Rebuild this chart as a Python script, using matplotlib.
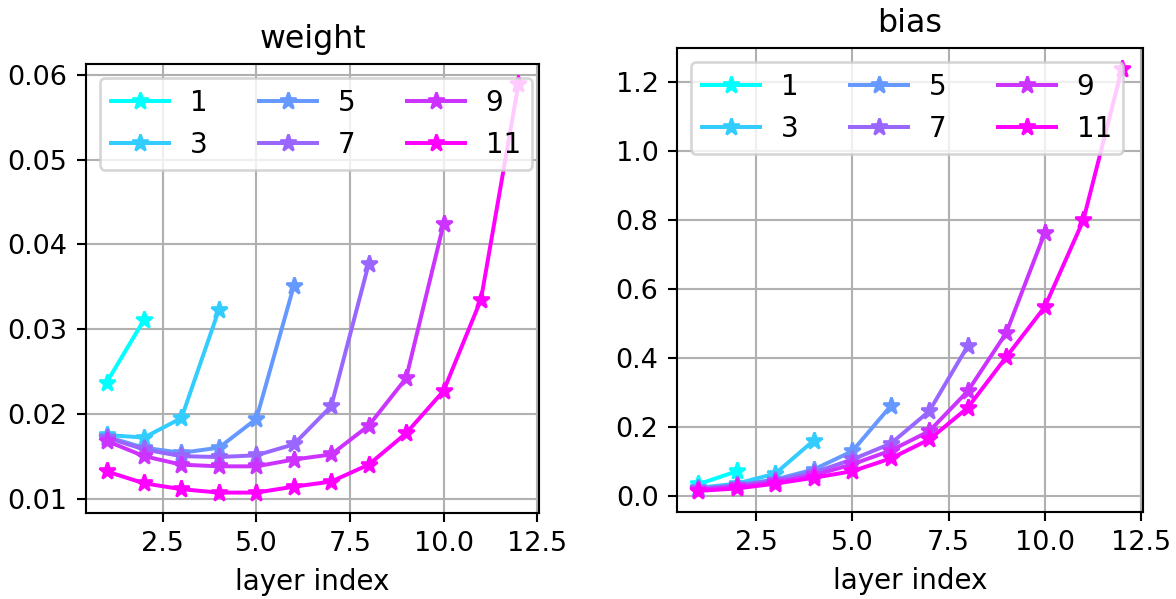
import numpy as np
import matplotlib
matplotlib.use("Agg")
import matplotlib.pyplot as plt
from matplotlib import cm

series_labels = ["1", "3", "5", "7", "9", "11"]

weight_1 = [0.0237, 0.0311]
weight_3 = [0.0175, 0.0172, 0.0195, 0.0323]
weight_5 = [0.0173, 0.0160, 0.0154, 0.0160, 0.0194, 0.0351]
weight_7 = [0.0172, 0.0158, 0.0150, 0.0149, 0.0151, 0.0164, 0.0209, 0.0377]
weight_9 = [0.0168, 0.0150, 0.0140, 0.0138, 0.0138, 0.0146, 0.0152, 0.0186, 0.0242, 0.0424]
weight_11 = [0.0132, 0.0118, 0.0111, 0.0107, 0.0107, 0.0114, 0.0120, 0.0140, 0.0177, 0.0227, 0.0335, 0.0589]

bias_1 = [0.034, 0.072]
bias_3 = [0.024, 0.036, 0.065, 0.161]
bias_5 = [0.022, 0.032, 0.048, 0.077, 0.130, 0.261]
bias_7 = [0.020, 0.030, 0.045, 0.068, 0.106, 0.152, 0.246, 0.435]
bias_9 = [0.018, 0.028, 0.040, 0.060, 0.092, 0.132, 0.188, 0.304, 0.473, 0.763]
bias_11 = [0.015, 0.022, 0.036, 0.053, 0.072, 0.109, 0.164, 0.256, 0.403, 0.548, 0.799, 1.237]

weights = [weight_1, weight_3, weight_5, weight_7, weight_9, weight_11]
biases = [bias_1, bias_3, bias_5, bias_7, bias_9, bias_11]

DPI = 190
W, H = 1176, 599
fig = plt.figure(figsize=(W / DPI, H / DPI), dpi=DPI)

def px_axes(x0, y0, x1, y1):
    return fig.add_axes([x0 / W, 1 - y1 / H, (x1 - x0) / W, (y1 - y0) / H])

ax1 = px_axes(86, 64, 539, 513)
ax2 = px_axes(677, 48, 1143, 512)

colors = cm.cool(np.linspace(0, 1, len(series_labels)))

for ax, data, title in [(ax1, weights, "weight"), (ax2, biases, "bias")]:
    for lab, vals, c in zip(series_labels, data, colors):
        x = np.arange(1, len(vals) + 1)
        ax.plot(x, vals, marker="*", color=c, label=lab, markersize=6.5)
    ax.grid(True)
    ax.set_axisbelow(True)
    ax.set_title(title, fontsize=12)
    ax.set_xlabel("layer index", fontsize=10.5)
    ax.tick_params(labelsize=10.3)
    ax.legend(ncol=3, loc="upper left", fontsize=10.5, handlelength=2.1,
              handletextpad=0.75, columnspacing=1.85)

ax1.set_xlim(0.45, 12.55)
ax1.set_yticks([0.01, 0.02, 0.03, 0.04, 0.05, 0.06])
ax1.set_xticks([2.5, 5.0, 7.5, 10.0, 12.5])
ax2.set_xlim(0.45, 12.55)
ax2.set_yticks([0.0, 0.2, 0.4, 0.6, 0.8, 1.0, 1.2])
ax2.set_xticks([2.5, 5.0, 7.5, 10.0, 12.5])

fig.savefig("out.png", dpi=DPI)
